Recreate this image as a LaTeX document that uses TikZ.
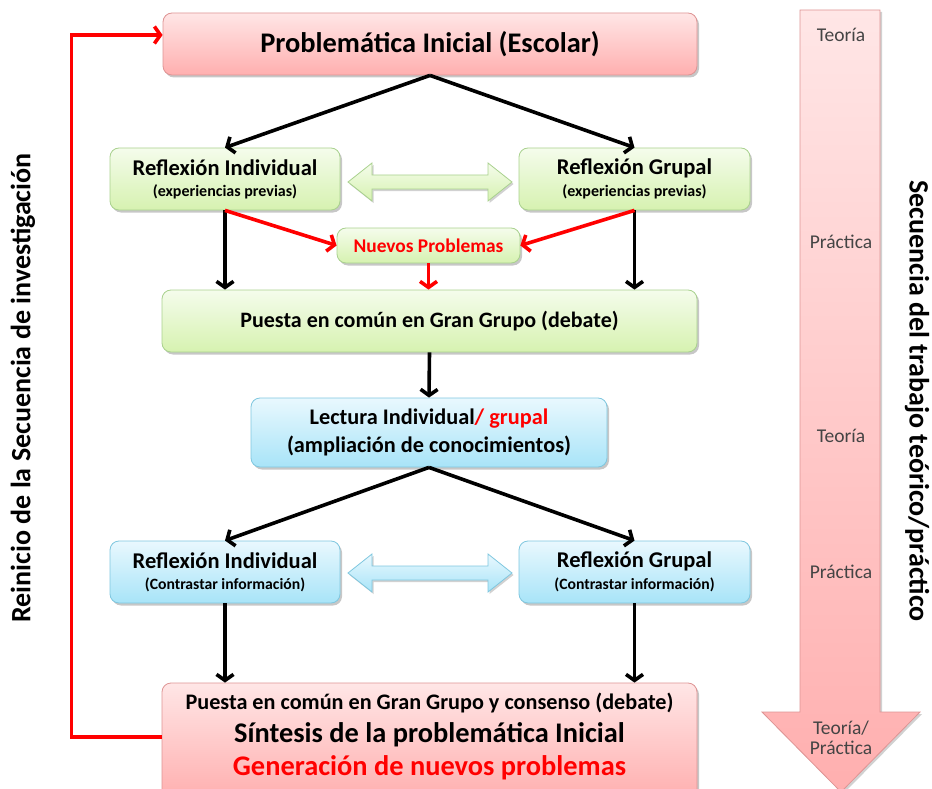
\documentclass[tikz,border=0pt]{standalone}
\usepackage{fontspec}
\setmainfont{Carlito}
\usetikzlibrary{arrows.meta,shadows}
\definecolor{pkT}{HTML}{FFE6E6}
\definecolor{pkB}{HTML}{FFAFAF}
\definecolor{pkD}{HTML}{DE9494}
\definecolor{grT}{HTML}{F5FCEC}
\definecolor{grB}{HTML}{D6F2B0}
\definecolor{grD}{HTML}{A9D18E}
\definecolor{blT}{HTML}{E9F8FE}
\definecolor{blB}{HTML}{A8E4F8}
\definecolor{blD}{HTML}{7FC7DF}
\definecolor{lbl}{HTML}{444444}
\newcommand\fsz[1]{\fontsize{#1}{#1}\selectfont}
\begin{document}
\begin{tikzpicture}[x=1pt,y=-1pt,
  box/.style={rectangle,rounded corners=9pt,inner sep=0pt,line width=0.8pt,
    drop shadow={shadow xshift=2pt,shadow yshift=-2.5pt,opacity=0.22,fill=black}},
  pink/.style={box,draw=pkD,top color=pkT,bottom color=pkB},
  green/.style={box,draw=grD,top color=grT,bottom color=grB},
  blue/.style={box,draw=blD,top color=blT,bottom color=blB},
  txt/.style={inner sep=0pt,font=\bfseries},
  blk/.style={line width=3.6pt,black,-{Straight Barb[length=6pt,width=17pt]}},
  redarr/.style={line width=3.6pt,red,-{Straight Barb[length=6pt,width=17pt]}},
  seq/.style={inner sep=0pt,text=lbl,font=\fsz{19.5}},
]
\useasboundingbox (0,0) rectangle (932,789);
\clip (0,0) rectangle (932,789);

% big arrow on the right
\path[top color=pkT,bottom color=pkB,draw=pkD,line width=0.8pt,
  drop shadow={shadow xshift=2pt,shadow yshift=-2pt,opacity=0.18,fill=black}]
  (800,10) -- (880,10) -- (880,712) -- (920,712) -- (841,792) -- (762,712) -- (800,712) -- cycle;
\node[seq] (s1) at (841,35) {Teoría};
\node[seq] (s2) at (841,242) {Práctica};
\node[seq] (s3) at (841,436) {Teoría};
\node[seq] (s4) at (841,572) {Práctica};
\node[seq,align=center] (s5) at (841,738) {Teoría/\\[1pt]Práctica};

% side texts
\node[inner sep=0pt,rotate=-90,font=\bfseries\fsz{28}] (rt) at (917,401) {Secuencia del trabajo teórico/práctico};
\node[inner sep=0pt,rotate=90,font=\bfseries\fsz{28}] (lt) at (23,388) {Reinicio de la Secuencia de investigación};

% boxes
\node[pink,minimum width=534pt,minimum height=62pt] (top) at (430,44) {};
\node[txt,font=\bfseries\fsz{28.4}] (topt) at (430,44) {Problemática Inicial (Escolar)};

\node[green,minimum width=230pt,minimum height=62pt] (ri1) at (225,179) {};
\node[txt,font=\bfseries\fsz{22.5}] (ri1a) at (225,168) {Reflexión Individual};
\node[txt,font=\bfseries\fsz{16}] (ri1b) at (225,192) {(experiencias previas)};

\node[green,minimum width=231pt,minimum height=62pt] (rg1) at (634.5,179) {};
\node[txt,font=\bfseries\fsz{22.5}] (rg1a) at (634.5,168) {Reflexión Grupal};
\node[txt,font=\bfseries\fsz{16}] (rg1b) at (634.5,192) {(experiencias previas)};

\node[green,minimum width=183pt,minimum height=35pt] (np) at (428.5,245.5) {};
\node[txt,text=red,font=\bfseries\fsz{19.4}] (npt) at (428.5,245.5) {Nuevos Problemas};

\node[green,minimum width=535pt,minimum height=62pt] (pc) at (429.5,321) {};
\node[txt,font=\bfseries\fsz{22}] (pct) at (429.5,321) {Puesta en común en Gran Grupo (debate)};

\node[blue,minimum width=356pt,minimum height=69pt] (lec) at (429,432.5) {};
\node[txt,font=\bfseries\fsz{22.3}] (leca) at (429,419) {Lectura Individual\textcolor{red}{/ grupal}};
\node[txt,font=\bfseries\fsz{22.3}] (lecb) at (429,446) {(ampliación de conocimientos)};

\node[blue,minimum width=230pt,minimum height=62pt] (ri2) at (225,572) {};
\node[txt,font=\bfseries\fsz{22.5}] (ri2a) at (225,561) {Reflexión Individual};
\node[txt,font=\bfseries\fsz{15.7}] (ri2b) at (225,585) {(Contrastar información)};

\node[blue,minimum width=231pt,minimum height=62pt] (rg2) at (634.5,572) {};
\node[txt,font=\bfseries\fsz{22.5}] (rg2a) at (634.5,561) {Reflexión Grupal};
\node[txt,font=\bfseries\fsz{15.7}] (rg2b) at (634.5,585) {(Contrastar información)};

\node[pink,minimum width=535pt,minimum height=116pt] (bot) at (429.5,741) {};
\node[txt,font=\bfseries\fsz{22.2}] (bota) at (429.5,703) {Puesta en común en Gran Grupo y consenso (debate)};
\node[txt,font=\bfseries\fsz{28.4}] (botb) at (429.5,735) {Síntesis de la problemática Inicial};
\node[txt,text=red,font=\bfseries\fsz{28.4}] (botc) at (429.5,768) {Generación de nuevos problemas};

% double arrows
\path[top color=grT,bottom color=grB,draw=grD,line width=0.8pt,
  drop shadow={shadow xshift=1.5pt,shadow yshift=-2pt,opacity=0.18,fill=black}]
  (348,182) -- (372,163) -- (372,175) -- (488,175) -- (488,163) -- (512,182)
  -- (488,201) -- (488,189) -- (372,189) -- (372,201) -- cycle;
\path[top color=blT,bottom color=blB,draw=blD,line width=0.8pt,
  drop shadow={shadow xshift=1.5pt,shadow yshift=-2pt,opacity=0.18,fill=black}]
  (348,573) -- (372,554) -- (372,566) -- (488,566) -- (488,554) -- (512,573)
  -- (488,592) -- (488,580) -- (372,580) -- (372,592) -- cycle;

% connectors
\draw[blk] (top.south) -- (ri1.north);
\draw[blk] (top.south) -- (rg1.north);
\draw[blk] (ri1.south) -- (ri1.south |- pc.north);
\draw[blk] (rg1.south) -- (rg1.south |- pc.north);
\draw[redarr] (ri1.south) -- (np.west);
\draw[redarr] (rg1.south) -- (np.east);
\draw[redarr] (np.south) -- (np.south |- pc.north);
\draw[blk] (pc.south) -- (lec.north);
\draw[blk] (lec.south) -- (ri2.north);
\draw[blk] (lec.south) -- (rg2.north);
\draw[blk] (ri2.south) -- (ri2.south |- bot.north);
\draw[blk] (rg2.south) -- (rg2.south |- bot.north);
\coordinate (loopin) at ([yshift=4pt]bot.west);
\coordinate (loopout) at ([yshift=9pt]top.west);
\draw[redarr,rounded corners=0pt] (loopin) -- ++(-90,0) |- (loopout);
\end{tikzpicture}
\end{document}
